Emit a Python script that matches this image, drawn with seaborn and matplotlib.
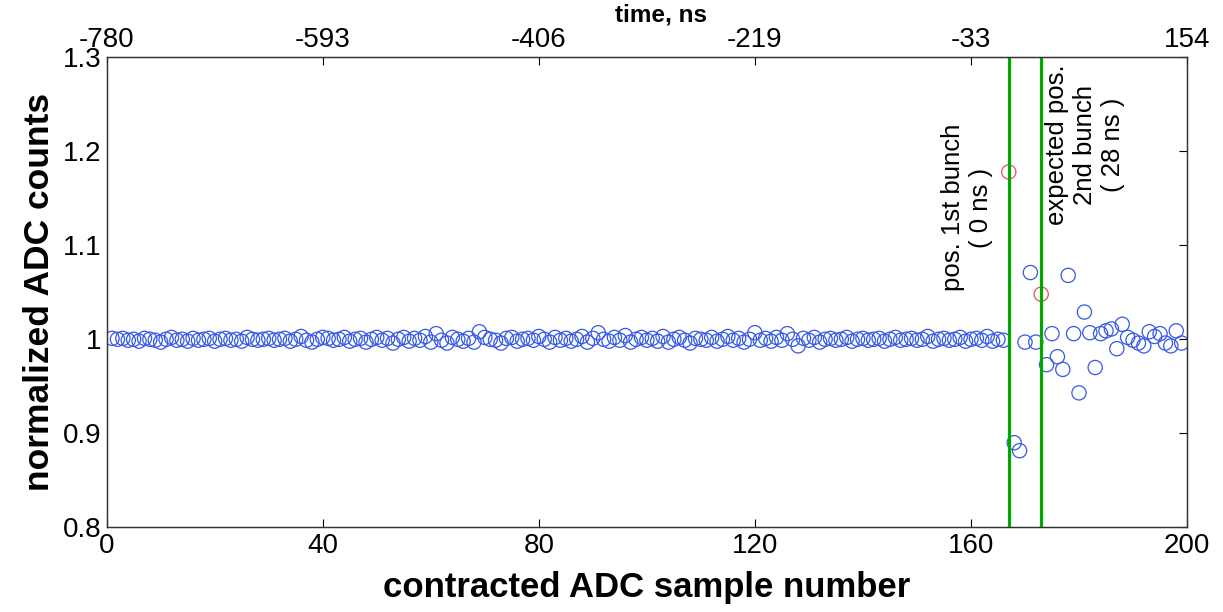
import numpy as np
import pandas as pd
import matplotlib
matplotlib.use("Agg")
import matplotlib.pyplot as plt
import seaborn as sns

# ---- data ----
samples = list(range(1, 200))
adc_values = [
    1.001, 1.000, 1.001, 0.999, 1.000, 0.998, 1.001, 1.000, 0.999, 0.997,
    1.000, 1.002, 0.999, 1.000, 0.998, 1.001, 0.999, 1.000, 1.001, 0.998,
    1.000, 1.001, 0.999, 1.000, 0.998, 1.002, 1.000, 0.999, 1.000, 1.001,
    0.999, 1.000, 1.001, 0.998, 1.000, 1.003, 0.999, 0.997, 1.000, 1.002,
    1.001, 0.999, 1.000, 1.002, 0.998, 1.000, 1.001, 0.997, 1.000, 1.002,
    0.999, 1.001, 0.996, 1.000, 1.002, 0.998, 1.001, 0.999, 1.003, 0.997,
    1.006, 0.999, 0.996, 1.002, 1.000, 0.998, 1.001, 0.997, 1.008, 1.002,
    1.000, 0.999, 0.996, 1.001, 1.002, 0.998, 1.000, 1.001, 0.999, 1.003,
    1.000, 0.997, 1.002, 0.999, 1.001, 0.998, 1.000, 1.003, 0.997, 1.001,
    1.007, 1.000, 0.998, 1.002, 0.999, 1.004, 0.997, 1.000, 1.002, 0.999,
    1.001, 0.998, 1.003, 0.997, 1.000, 1.002, 0.999, 0.996, 1.001, 1.000,
    0.999, 1.002, 0.998, 1.000, 1.003, 0.999, 1.001, 0.997, 1.000, 1.007,
    0.999, 1.001, 0.998, 1.002, 0.999, 1.006, 1.000, 0.993, 1.001, 0.999,
    1.002, 0.997, 1.000, 1.001, 0.999, 1.000, 1.002, 0.998, 1.000, 1.001,
    0.999, 1.000, 1.001, 0.998, 1.000, 1.002, 0.999, 1.000, 1.001, 0.999,
    1.000, 1.003, 0.998, 1.000, 1.001, 0.999, 1.000, 1.002, 0.998, 1.000,
    1.001, 0.999, 1.003, 0.998, 1.000, 0.999,
    1.178, 0.890, 0.8815, 0.997, 1.071, 0.997, 1.048, 0.973, 1.006, 0.9815,
    0.968, 1.068, 1.006, 0.943, 1.029, 1.007, 0.970, 1.006, 1.009, 1.011,
    0.990, 1.016, 1.002, 0.999, 0.996, 0.993, 1.008, 1.003, 1.006, 0.996,
    0.993, 1.009, 0.996,
]
bunch_samples = [167, 173]          # marked (red) samples / bunch positions
bottom_ticks = [0, 40, 80, 120, 160, 200]
top_tick_labels = ["-780", "-593", "-406", "-219", "-33", "154"]
y_ticks = [0.8, 0.9, 1.0, 1.1, 1.2, 1.3]
y_tick_labels = ["0.8", "0.9", "1", "1.1", "1.2", "1.3"]

df = pd.DataFrame({"sample": samples, "adc": adc_values})
df["kind"] = np.where(df["sample"].isin(bunch_samples), "bunch", "normal")

sns.set_style("white")
plt.rcParams["font.family"] = ["Liberation Sans", "DejaVu Sans"]
for key in ["text.color", "axes.labelcolor", "xtick.color", "ytick.color"]:
    plt.rcParams[key] = "black"

fig = plt.figure(figsize=(12.23, 6.12), dpi=100)
ax = fig.add_axes([0.0872, 0.1384, 0.8834, 0.768])

sns.scatterplot(data=df, x="sample", y="adc", hue="kind",
                palette={"normal": "#3558e6", "bunch": "#e05555"},
                marker="o", s=105, linewidth=0.9,
                legend=False, ax=ax)
# make markers hollow
for coll in ax.collections:
    fc = coll.get_facecolors()
    coll.set_edgecolors(fc)
    coll.set_facecolors("none")

for xb in bunch_samples:
    ax.axvline(xb, color="#00a800", lw=2.3, zorder=1)

ax.set_xlim(0, 200)
ax.set_ylim(0.8, 1.3)
ax.set_xticks(bottom_ticks)
ax.set_xticklabels([str(t) for t in bottom_ticks])
ax.set_yticks(y_ticks)
ax.set_yticklabels(y_tick_labels)
ax.tick_params(direction="in", length=6, labelsize=20, width=0.8, pad=4)
ax.set_xlabel("contracted ADC sample number", fontsize=25, fontweight="bold", labelpad=9)
ax.set_ylabel("normalized ADC counts", fontsize=25.5, fontweight="bold", labelpad=5)
for sp in ax.spines.values():
    sp.set_color("#333333")
    sp.set_linewidth(0.9)

ax2 = ax.twiny()
ax2.set_xlim(0, 200)
ax2.set_xticks(bottom_ticks)
ax2.set_xticklabels(top_tick_labels)
ax2.tick_params(direction="in", length=6, labelsize=20, width=0.8, pad=3)
for sp in ax2.spines.values():
    sp.set_color("#333333")
    sp.set_linewidth(0.9)
ax.tick_params(right=True)
fig.text(661 / 1223, 1 - 15 / 612, "time, ns", fontsize=17.5, fontweight="bold",
         ha="center", va="center")

ax.text(164, 1.14, "pos. 1st bunch\n( 0 ns )", rotation=90, ha="right", va="center",
        multialignment="center", fontsize=18.5, linespacing=1.2)
ax.text(173.7, 1.207, "expected pos.\n2nd bunch\n( 28 ns )", rotation=90, ha="left", va="center",
        multialignment="center", fontsize=18.5, linespacing=1.2)

fig.savefig("out.png", dpi=100)
